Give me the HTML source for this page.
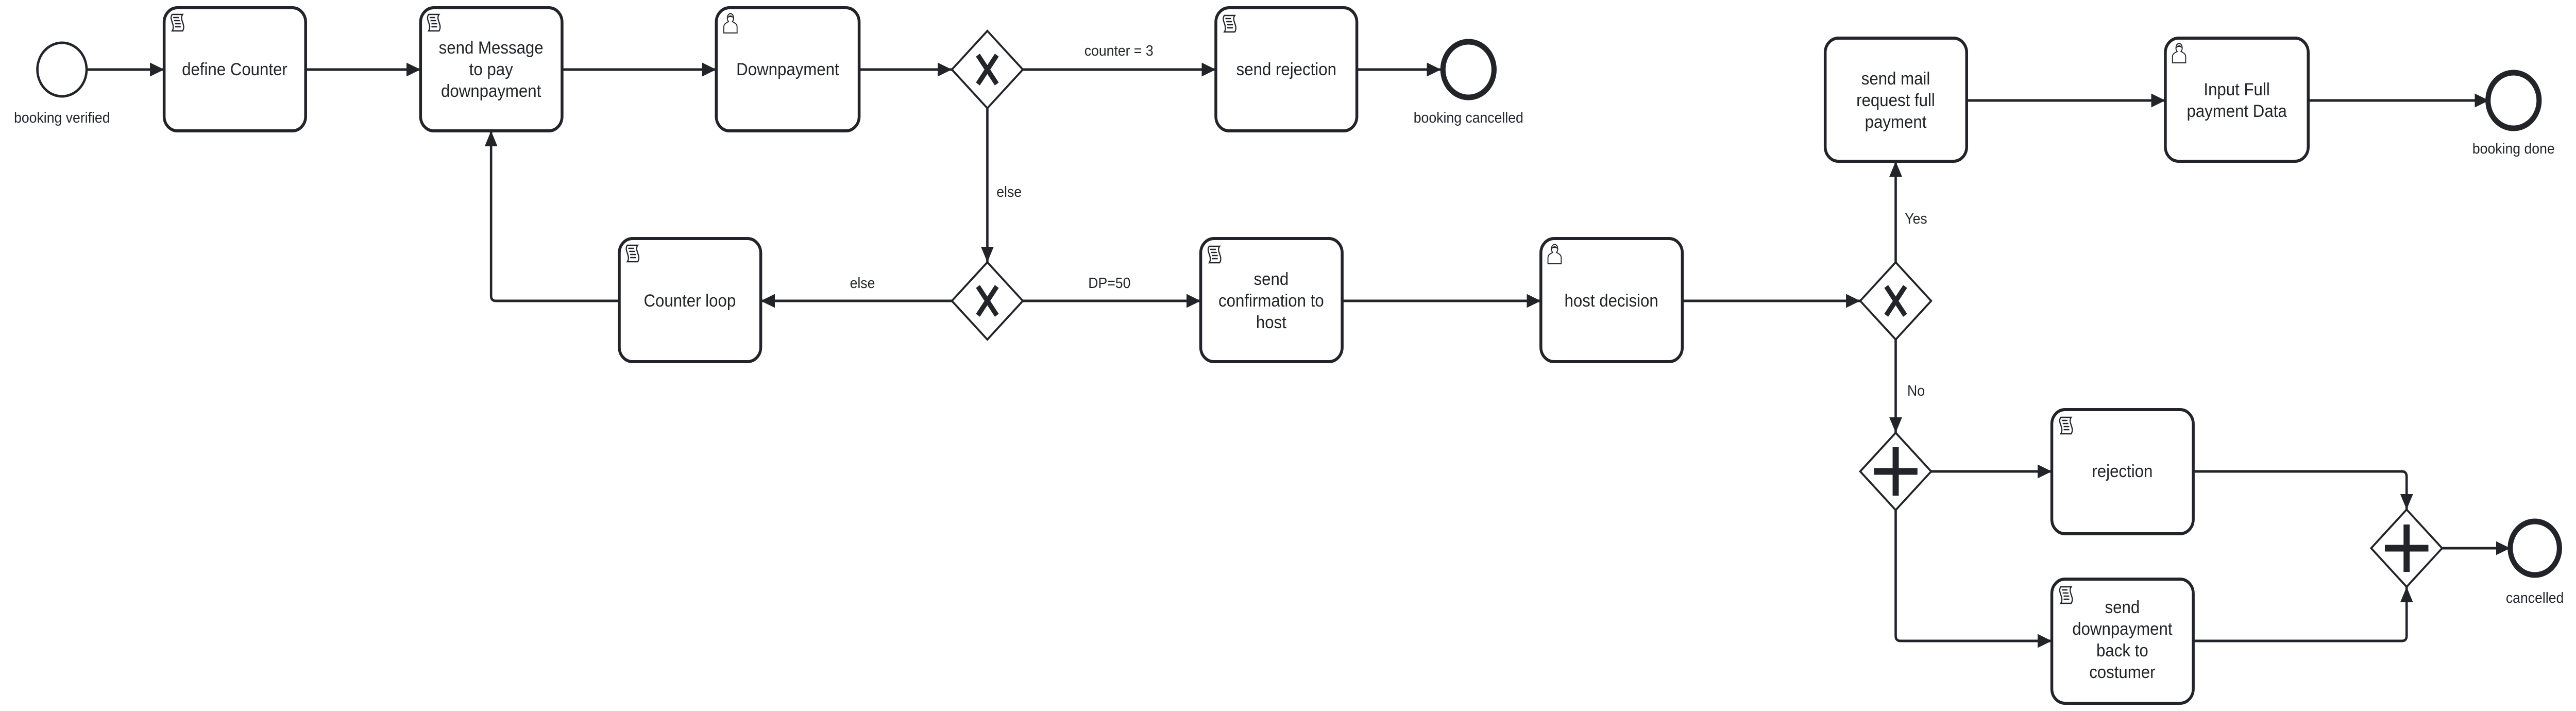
<!DOCTYPE html>
<html><head><meta charset="utf-8"><style>
html,body{margin:0;padding:0;background:#fff;width:100%;height:100%;overflow:hidden;}
svg{display:block;font-family:"Liberation Sans",Arial,sans-serif;width:100vw;height:100vh;}
.t{font-size:34px;fill:#22242a;text-anchor:middle;}
.l{font-size:29px;fill:#22242a;text-anchor:middle;}
.box{fill:#fff;stroke:#22242a;stroke-width:6;}
.c{fill:none;stroke:#22242a;stroke-width:5;stroke-linejoin:round;}
.g{fill:#fff;stroke:#22242a;stroke-width:4;}
</style></head><body>
<svg viewBox="0 0 5445 1380" preserveAspectRatio="none" xmlns="http://www.w3.org/2000/svg">
<defs>
<marker id="ar" viewBox="0 0 20 20" refX="20" refY="10" markerWidth="30" markerHeight="30" markerUnits="userSpaceOnUse" orient="auto"><path d="M0,1 L20,10 L0,19 z" fill="#22242a"/></marker>
<g id="script"><path d="M6,2 h22 c-8,10 8,20 0,32 h-22 c8,-12 -8,-22 0,-32 z" fill="#fff" stroke="#22242a" stroke-width="2.5"/><path d="M8,8 h12 M10,14 h12 M12,20 h12 M12,26 h12" stroke="#22242a" stroke-width="2.5"/></g>
<g id="user"><path d="M2,40 v-12 c0,-6 6,-8 10,-10 c-4,-4 -4,-14 4,-16 c8,2 8,12 4,16 c4,2 10,4 10,10 v12 z" fill="#fff" stroke="#22242a" stroke-width="2"/><path d="M10,12 c0,-8 12,-8 12,0 c-2,-4 -10,-4 -12,0z" fill="#22242a"/></g>
</defs>

<g class="c">
<path d="M183,135 H347" marker-end="url(#ar)"/>
<path d="M646,135 H889" marker-end="url(#ar)"/>
<path d="M1188,135 H1514" marker-end="url(#ar)"/>
<path d="M1816,135 H2012" marker-end="url(#ar)"/>
<path d="M2162,135 H2570" marker-end="url(#ar)"/>
<path d="M2868,135 H3046" marker-end="url(#ar)"/>
<path d="M2087,210 V509" marker-end="url(#ar)"/>
<path d="M2012,584 H1608" marker-end="url(#ar)"/>
<path d="M1309,584 H1048 Q1038,584 1038,574 V254" marker-end="url(#ar)"/>
<path d="M2162,584 H2538" marker-end="url(#ar)"/>
<path d="M2837,584 H3257" marker-end="url(#ar)"/>
<path d="M3556,584 H3932" marker-end="url(#ar)"/>
<path d="M4007,509 V313" marker-end="url(#ar)"/>
<path d="M4157,195 H4577" marker-end="url(#ar)"/>
<path d="M4879,195 H5261" marker-end="url(#ar)"/>
<path d="M4007,659 V840" marker-end="url(#ar)"/>
<path d="M4082,915 H4337" marker-end="url(#ar)"/>
<path d="M4007,989 V1234 Q4007,1244 4017,1244 H4337" marker-end="url(#ar)"/>
<path d="M4636,915 H5077 Q5087,915 5087,925 V989" marker-end="url(#ar)"/>
<path d="M4636,1244 H5077 Q5087,1244 5087,1234 V1139" marker-end="url(#ar)"/>
<path d="M5161,1064 H5306" marker-end="url(#ar)"/>
</g>

<circle cx="131" cy="135" r="52" fill="#fff" stroke="#22242a" stroke-width="5"/>
<circle cx="3104" cy="135" r="54" fill="#fff" stroke="#22242a" stroke-width="11"/>
<circle cx="5313" cy="195" r="54" fill="#fff" stroke="#22242a" stroke-width="11"/>
<circle cx="5358" cy="1064" r="52" fill="#fff" stroke="#22242a" stroke-width="11"/>
<text class="l" x="131" y="238">booking verified</text>
<text class="l" x="3104" y="238">booking cancelled</text>
<text class="l" x="5313" y="298">booking done</text>
<text class="l" x="5358" y="1170">cancelled</text>

<rect class="box" x="347" y="15" width="299" height="239" rx="28"/>
<use href="#script" x="358" y="26"/>
<text class="t" x="496" y="146">define Counter</text>

<rect class="box" x="889" y="15" width="299" height="239" rx="28"/>
<use href="#script" x="900" y="26"/>
<text class="t" x="1038" y="104">send Message</text>
<text class="t" x="1038" y="146">to pay</text>
<text class="t" x="1038" y="188">downpayment</text>

<rect class="box" x="1514" y="15" width="302" height="239" rx="28"/>
<use href="#user" x="1528" y="24"/>
<text class="t" x="1665" y="146">Downpayment</text>

<rect class="box" x="2570" y="15" width="298" height="239" rx="28"/>
<use href="#script" x="2582" y="28"/>
<text class="t" x="2719" y="146">send rejection</text>

<rect class="box" x="1309" y="463" width="299" height="239" rx="28"/>
<use href="#script" x="1320" y="474"/>
<text class="t" x="1458" y="595">Counter loop</text>

<rect class="box" x="2538" y="463" width="299" height="239" rx="28"/>
<use href="#script" x="2550" y="476"/>
<text class="t" x="2687" y="553">send</text>
<text class="t" x="2687" y="595">confirmation to</text>
<text class="t" x="2687" y="637">host</text>

<rect class="box" x="3257" y="463" width="299" height="239" rx="28"/>
<use href="#user" x="3270" y="472"/>
<text class="t" x="3406" y="595">host decision</text>

<rect class="box" x="3858" y="74" width="299" height="239" rx="28"/>
<text class="t" x="4007" y="164">send mail</text>
<text class="t" x="4007" y="206">request full</text>
<text class="t" x="4007" y="248">payment</text>

<rect class="box" x="4577" y="74" width="302" height="239" rx="28"/>
<use href="#user" x="4590" y="82"/>
<text class="t" x="4728" y="185">Input Full</text>
<text class="t" x="4728" y="227">payment Data</text>

<rect class="box" x="4337" y="795" width="299" height="241" rx="28"/>
<use href="#script" x="4350" y="808"/>
<text class="t" x="4486" y="926">rejection</text>

<rect class="box" x="4337" y="1124" width="299" height="241" rx="28"/>
<use href="#script" x="4350" y="1137"/>
<text class="t" x="4486" y="1190">send</text>
<text class="t" x="4486" y="1232">downpayment</text>
<text class="t" x="4486" y="1274">back to</text>
<text class="t" x="4486" y="1316">costumer</text>

<g>
<polygon class="g" points="2087,60 2162,135 2087,210 2012,135"/>
<path d="M2067,107 L2107,163 M2107,107 L2067,163" stroke="#22242a" stroke-width="10"/>
<polygon class="g" points="2087,509 2162,584 2087,659 2012,584"/>
<path d="M2067,556 L2107,612 M2107,556 L2067,612" stroke="#22242a" stroke-width="10"/>
<polygon class="g" points="4007,509 4082,584 4007,659 3932,584"/>
<path d="M3987,556 L4027,612 M4027,556 L3987,612" stroke="#22242a" stroke-width="10"/>
<polygon class="g" points="4007,840 4082,915 4007,990 3932,915"/>
<path d="M4007,868 V962 M3961,915 H4053" stroke="#22242a" stroke-width="13"/>
<polygon class="g" points="5087,989 5162,1064 5087,1139 5012,1064"/>
<path d="M5087,1018 V1110 M5041,1064 H5133" stroke="#22242a" stroke-width="13"/>
</g>

<text class="l" x="2365" y="108">counter = 3</text>
<text class="l" x="2133" y="382">else</text>
<text class="l" x="1823" y="559">else</text>
<text class="l" x="2345" y="559">DP=50</text>
<text class="l" x="4050" y="434">Yes</text>
<text class="l" x="4050" y="768">No</text>
</svg>
</body></html>
